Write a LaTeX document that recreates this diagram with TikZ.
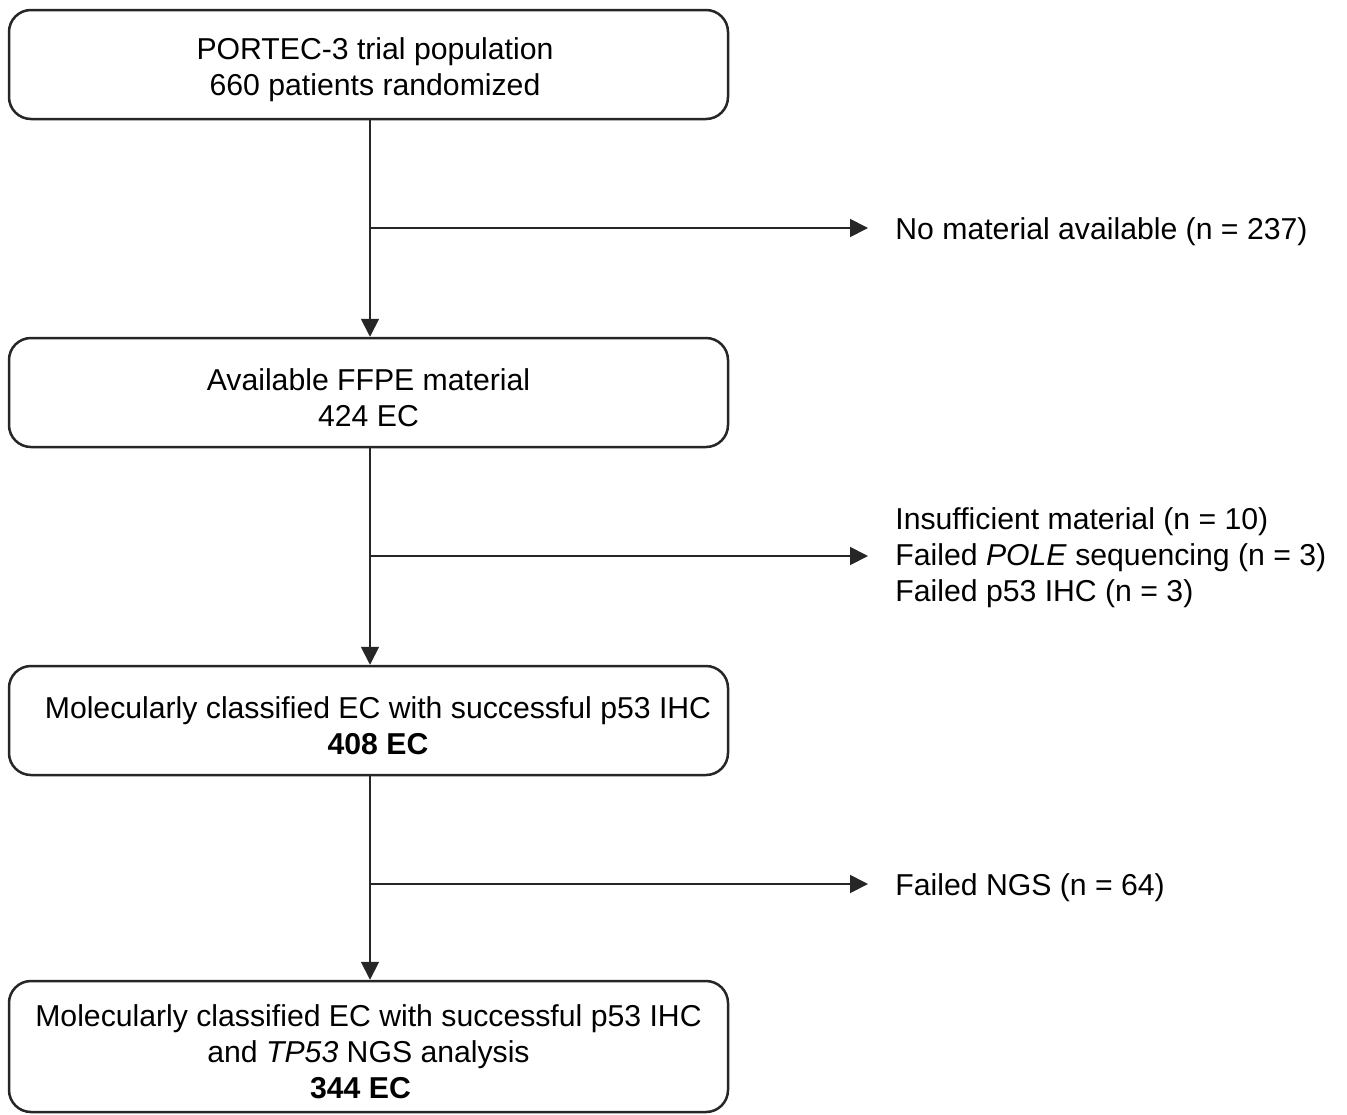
\documentclass[tikz,border=0pt]{standalone}
\usepackage{fontspec}
\setmainfont{Liberation Sans}
\usetikzlibrary{arrows.meta,calc}
\newcommand\dnstrut{\rule{0pt}{16pt}}
\begin{document}
\begin{tikzpicture}[x=0.5pt,y=-0.5pt,
  box/.style={draw=black!85,line width=1.25pt,rounded corners=11pt,minimum width=359.5pt,align=center,inner sep=0pt,font=\fontsize{15.1}{18}\selectfont},
  side/.style={anchor=west,align=left,inner xsep=13.5pt,inner ysep=0pt,font=\fontsize{15.1}{18}\selectfont},
  conn/.style={line width=0.9pt,draw=black!85},
  arr/.style={conn,-{Triangle[length=9pt,width=9pt]}}]
\useasboundingbox (0,0) rectangle (1347,1114);
\node[box,minimum height=54.5pt] (b1) at (368.5,64.5) {\dnstrut\hspace*{6.5pt}PORTEC-3 trial population\\\hspace*{6.5pt}660 patients randomized};
\node[box,minimum height=54.5pt] (b2) at (368.5,392.5) {\dnstrut Available FFPE material\\424 EC};
\node[box,minimum height=54.5pt] (b3) at (368.5,720.5) {\dnstrut\hspace*{9.5pt}Molecularly classified EC with successful p53 IHC\\\hspace*{9.5pt}\textbf{408 EC}};
\node[box,minimum height=65.5pt] (b4) at (368.5,1046.5) {\dnstrut Molecularly classified EC with successful p53 IHC\\and \textit{TP53} NGS analysis\\\textbf{344 EC}\hspace*{8pt}};
\node[side] (t1) at (868,231.5) {No material available (n = 237)};
\node[side] (t2) at (868,557.5) {Insufficient material (n = 10)\\Failed \textit{POLE} sequencing (n = 3)\\Failed p53 IHC (n = 3)};
\node[side] (t3) at (868,887.5) {Failed NGS (n = 64)};
\coordinate (j1) at (370,228);
\coordinate (j2) at (370,556);
\coordinate (j3) at (370,884);
\draw[arr] (b1.south -| j1) -- (b2.north -| j1);
\draw[arr] (b2.south -| j2) -- (b3.north -| j2);
\draw[arr] (b3.south -| j3) -- (b4.north -| j3);
\draw[arr] (j1) -- (t1.west |- j1);
\draw[arr] (j2) -- (t2.west |- j2);
\draw[arr] (j3) -- (t3.west |- j3);
\end{tikzpicture}
\end{document}
